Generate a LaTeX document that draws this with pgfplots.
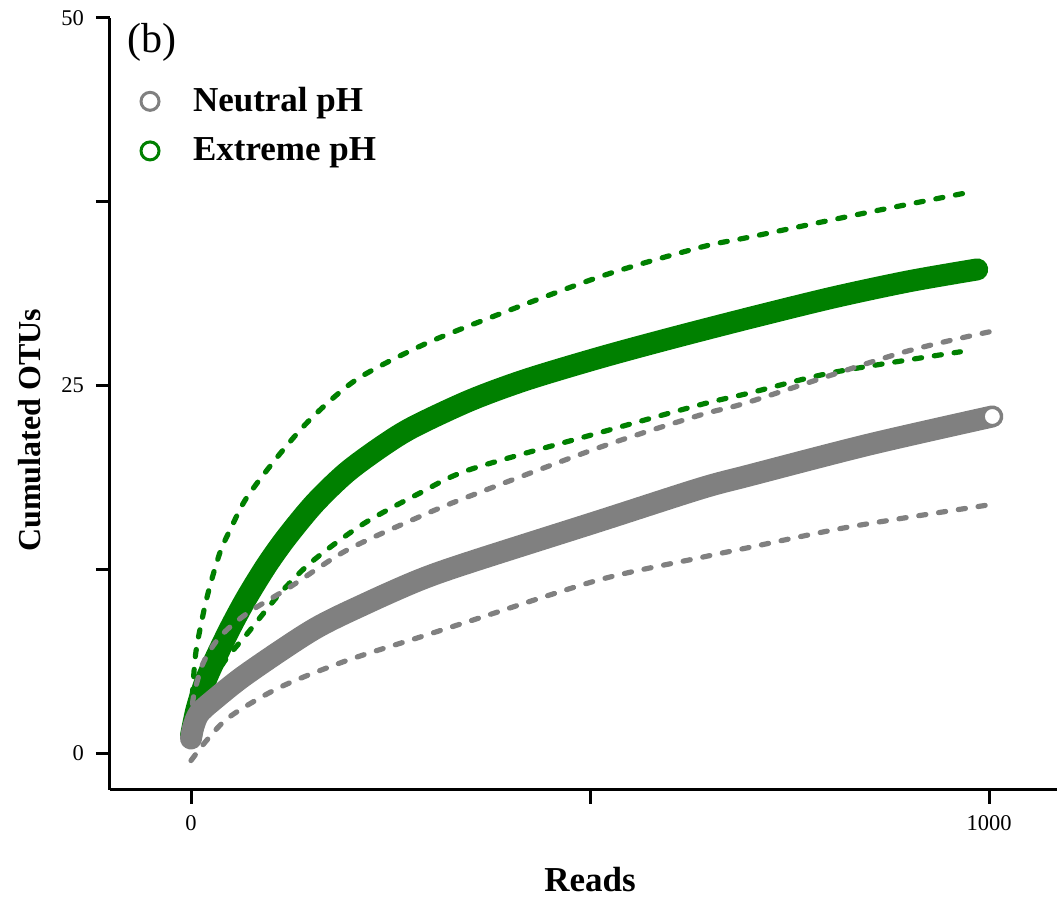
\documentclass[border=0pt]{standalone}
\usepackage{fontspec}
\setmainfont{Liberation Serif}
\usepackage{pgfplots}
\pgfplotsset{compat=1.18}
\definecolor{ngray}{RGB}{128,128,128}
\definecolor{egreen}{RGB}{0,128,0}
\begin{document}
\begin{tikzpicture}
\useasboundingbox (-55pt,-54pt) rectangle (473.5pt,395pt);
\begin{axis}[
  scale only axis, width=473.5pt, height=386pt,
  xmin=-101.5, xmax=1085, ymin=-2.5, ymax=50,
  axis x line*=bottom, axis y line*=left,
  axis line style={line width=1.5pt, -},
  xtick={0,500,1000}, xticklabels={0,,1000},
  ytick={0,12.5,25,37.5,50}, yticklabels={0,,25,,50},
  tick align=outside, major tick length=7pt,
  major tick style={line width=1.5pt, black},
  tick label style={font=\fontsize{11.25}{13}\selectfont},
  xticklabel style={yshift=-2.3pt},
  yticklabel style={xshift=-2.5pt},
  /pgf/number format/assume math mode=true,
  xlabel={Reads}, ylabel={Cumulated OTUs},
  every axis x label/.style={at={(axis description cs:0.507,-0.1166)}, anchor=center,
     font=\bfseries\fontsize{17.5}{20}\selectfont},
  every axis y label/.style={at={(axis description cs:-0.0845,0.466)}, rotate=90, anchor=center,
     font=\bfseries\fontsize{16}{19}\selectfont},
  legend style={at={(axis description cs:0.026,0.918)}, anchor=north west, draw=none, fill=none,
    font=\bfseries\fontsize{17.5}{21}\selectfont, nodes={inner sep=1pt}, row sep=9.5pt},
  legend cell align=left,
]
\addlegendimage{only marks, mark=o, mark size=4.5pt, ngray, line width=1.5pt}
\addlegendentry{\hspace{16pt}Neutral pH}
\addlegendimage{only marks, mark=o, mark size=4.5pt, egreen, line width=1.5pt}
\addlegendentry{\hspace{16pt}Extreme pH}

% Extreme pH mean
\addplot[forget plot, egreen, line width=11pt, line cap=round, line join=round, smooth] coordinates {
(0,1.2) (7,3.0) (18,4.9) (32,6.6) (50,8.6) (70,10.6) (95,12.8) (120,14.7) (155,17.0) (195,19.1) (240,20.9) (279,22.2) (350,24.0) (420,25.4) (512,26.9) (600,28.2) (700,29.6) (805,31.0) (900,32.1) (985,32.9)};
% Extreme pH upper
\addplot[forget plot, egreen, line width=2.6pt, line cap=round, dash pattern=on 3.6pt off 6.4pt, smooth] coordinates {
(0,2.5) (3,5) (7,7.2) (20,10.6) (36,13.6) (50,15.3) (70,17.4) (112,20.4) (153,22.9) (207,25.4) (280,27.5) (350,29.1) (512,32.4) (638,34.4) (700,35.1) (850,36.8) (980,38.2)};
% Extreme pH lower
\addplot[forget plot, egreen, line width=2.6pt, line cap=round, dash pattern=on 3.6pt off 6.4pt, smooth] coordinates {
(0,1) (10,3.2) (40,6.1) (70,8.1) (112,10.9) (153,13.1) (216,15.6) (287,17.7) (350,19.3) (512,21.8) (638,23.7) (700,24.5) (805,25.9) (964,27.3)};
% Neutral pH mean
\addplot[forget plot, ngray, line width=11pt, line cap=round, line join=round, smooth,
  mark=*, mark indices={14}, mark size=4.4pt, mark options={fill=white, draw=ngray, line width=1.3pt}] coordinates {
(0,1.0) (3,1.8) (10,2.7) (28,3.6) (70,5.4) (153,8.4) (220,10.2) (287,11.8) (350,13.0) (512,15.8) (638,18.0) (700,18.9) (850,21.0) (1004,22.9)};
% Neutral pH upper
\addplot[forget plot, ngray, line width=2.6pt, line cap=round, dash pattern=on 3.6pt off 6.4pt, smooth] coordinates {
(0,2) (3,3.8) (15,6.1) (36,7.9) (70,9.5) (124,11.3) (195,13.8) (287,16.1) (350,17.5) (512,20.8) (638,23.0) (700,23.9) (888,27.2) (1004,28.7)};
% Neutral pH lower
\addplot[forget plot, ngray, line width=2.6pt, line cap=round, dash pattern=on 3.6pt off 6.4pt, smooth] coordinates {
(0,-0.5) (20,0.9) (49,2.5) (112,4.5) (195,6.3) (287,7.9) (350,9.0) (512,11.8) (638,13.3) (700,14.0) (826,15.4) (1001,16.9)};

\node[anchor=center, font=\fontsize{21}{24}\selectfont] at (axis description cs:0.0444,0.969) {(b)};
\end{axis}
\end{tikzpicture}
\end{document}
